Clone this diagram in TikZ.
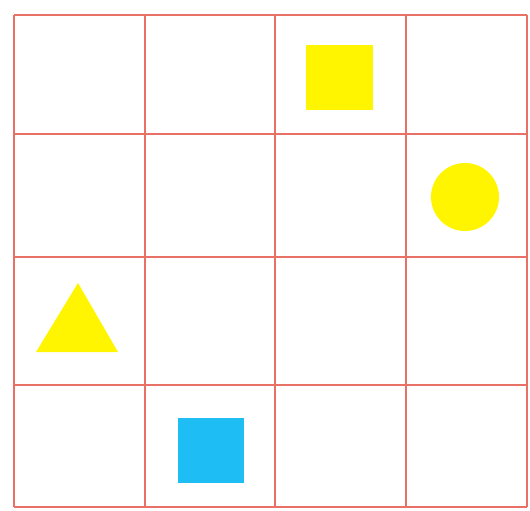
\documentclass[tikz,border=0pt]{standalone}
\definecolor{gridred}{RGB}{232,112,100}
\definecolor{shapeyellow}{RGB}{255,245,0}
\definecolor{shapeblue}{RGB}{30,190,245}
\tikzset{
  gridline/.style={draw=gridred, line width=1.6pt},
  yshape/.style={fill=shapeyellow, draw=none},
  bshape/.style={fill=shapeblue, draw=none}
}
\begin{document}
\begin{tikzpicture}[x=1pt,y=-1pt]
\useasboundingbox (0,0) rectangle (530,511);
\fill[white] (0,0) rectangle (530,511);
% grid
\foreach \x in {14,145,275,406,527} \draw[gridline] (\x,15) -- (\x,507);
\foreach \y in {15,134,257,385,507} \draw[gridline] (14,\y) -- (527,\y);
% shapes
\path[yshape] (306,45) rectangle (373,110);
\path[yshape] (465,197) circle (34);
\path[yshape] (78,283) -- (118,352) -- (36,352) -- cycle;
\path[bshape] (178,418) rectangle (244,483);
\end{tikzpicture}
\end{document}
